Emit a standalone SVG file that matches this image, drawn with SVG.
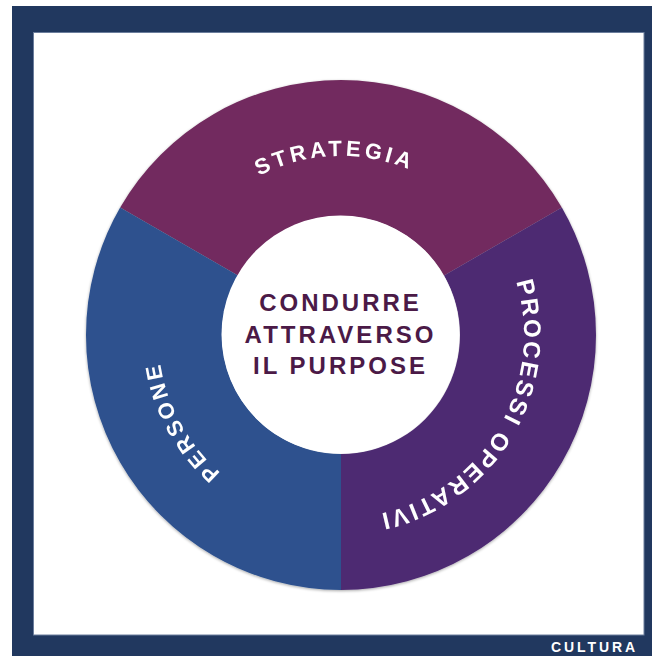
<svg xmlns="http://www.w3.org/2000/svg" width="652" height="656" viewBox="0 0 652 656">
<style>
.lbl{font-family:"Liberation Sans",Arial,sans-serif;font-weight:bold;fill:#ffffff}
.ctr{font-family:"Liberation Sans",Arial,sans-serif;font-weight:bold;fill:#4b1a47;font-size:24px;letter-spacing:3px}
</style>
<defs>
<filter id="sh" x="-10%" y="-10%" width="120%" height="120%">
<feGaussianBlur in="SourceAlpha" stdDeviation="1.5"/>
<feOffset dx="0" dy="1" result="b"/>
<feComponentTransfer><feFuncA type="linear" slope="0.35"/></feComponentTransfer>
<feMerge><feMergeNode/><feMergeNode in="SourceGraphic"/></feMerge>
</filter>
<path id="pStr" d="M 182.95 250.96 A 179 179 0 0 1 492.80 240.14"/>
<path id="pPer" d="M 336.21 517.94 A 183 183 0 0 1 184.97 239.38"/>
<path id="pPro" d="M 500.43 245.17 A 183 183 0 0 1 339.08 517.99"/>
</defs>
<g id="frame">
<rect x="12" y="6" width="640" height="650" fill="#21385f"/>
<rect x="33.5" y="32.5" width="610.5" height="602.5" fill="#ffffff" stroke="#6b7d9c" stroke-width="1"/>
<text x="551" y="652" class="lbl" font-size="14" letter-spacing="2.9">CULTURA</text>
</g>
<g id="wheel" filter="url(#sh)">
<g id="strategia">
<path d="M 120.16 207.5 A 255 255 0 0 1 561.84 207.5 L 444.06 275.5 A 119 119 0 0 0 237.94 275.5 Z" fill="#722c5e"/>
<text class="lbl" font-size="22" letter-spacing="3.6"><textPath href="#pStr" startOffset="50%" text-anchor="middle">STRATEGIA</textPath></text>
</g>
<g id="processi">
<path d="M 561.84 207.5 A 255 255 0 0 1 341 590 L 341 454 A 119 119 0 0 0 444.06 275.5 Z" fill="#4d2a72"/>
<text class="lbl" font-size="24" letter-spacing="2.5"><textPath href="#pPro" startOffset="50%" text-anchor="middle">PROCESSI OPERATIVI</textPath></text>
</g>
<g id="persone">
<path d="M 341 590 A 255 255 0 0 1 120.16 207.5 L 237.94 275.5 A 119 119 0 0 0 341 454 Z" fill="#2d518e"/>
<text class="lbl" font-size="22" letter-spacing="3.2"><textPath href="#pPer" startOffset="50%" text-anchor="middle">PERSONE</textPath></text>
</g>
</g>
<g id="center">
<circle cx="340.5" cy="334.5" r="119" fill="#ffffff"/>
<text class="ctr" x="340.5" y="311" text-anchor="middle">CONDURRE</text>
<text class="ctr" x="340.5" y="342.7" text-anchor="middle">ATTRAVERSO</text>
<text class="ctr" x="340.5" y="374.3" text-anchor="middle">IL PURPOSE</text>
</g>
<g id="connectors"/>
</svg>
